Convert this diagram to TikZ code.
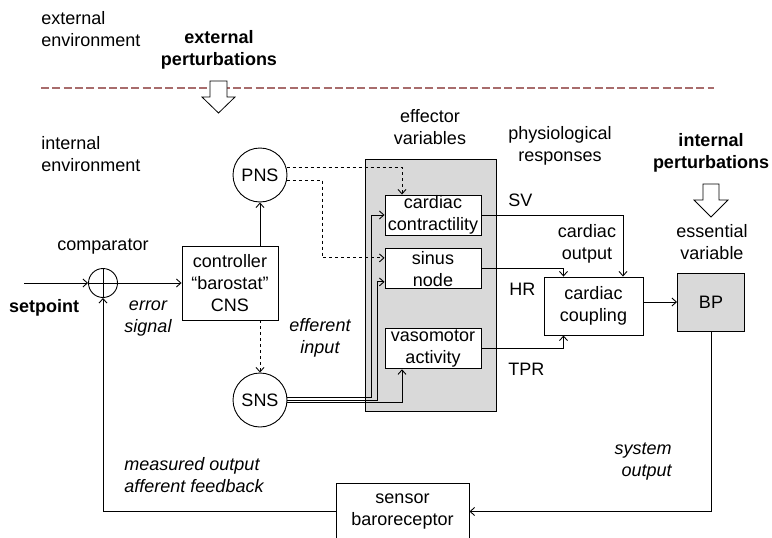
\documentclass[tikz,border=0pt]{standalone}
\usepackage{fontspec}
\setmainfont{Liberation Sans}
\usepackage{tikz}
\usetikzlibrary{positioning, arrows.meta}

\definecolor{effgray}{RGB}{217,217,217}
\definecolor{sepred}{RGB}{168,108,108}

\begin{document}
\begin{tikzpicture}[
x=1pt, y=-1pt,
font=\fontsize{18}{22}\selectfont,
line width=0.9pt,
block/.style={rectangle,
  draw,
  fill=white,
  align=center,
  inner sep=0pt,
  minimum width=96pt,
  minimum height=40pt
},
sumnode/.style={circle, draw, minimum size=29pt, inner sep=0pt},
nervenode/.style={circle, draw, fill=white, minimum size=54pt, inner sep=0pt},
lbl/.style={align=center, inner sep=0pt},
boldlbl/.style={lbl, font=\fontsize{18}{22}\selectfont\bfseries},
itlbl/.style={lbl, font=\fontsize{18}{22}\selectfont\itshape},
hollow/.style={draw, fill=white, line width=0.8pt, line join=miter},
sepline/.style={draw=sepred, line width=1.6pt, dash pattern=on 8pt off 3.3pt},
>={Straight Barb[length=4.5pt,width=8pt]}
]
\useasboundingbox (0,0) rectangle (772,538);

% environments and the boundary between them
\node[lbl, anchor=west, align=left] (extenv) at (41,29) {external\\environment};
\node[boldlbl] (extpert) at (219,50) {external\\perturbations};
\draw[sepline] (41,88) -- (714,88);
\draw[hollow] (210,81) -- (227,81) -- (227,97) -- (235,97) -- (218.5,113)
  -- (202,97) -- (210,97) -- cycle;
\node[lbl, anchor=west, align=left] (intenv) at (41,154) {internal\\environment};

% effector block
\node[draw, fill=effgray, minimum width=131pt, minimum height=252pt] (effbox) at (430.5,285) {};
\node[lbl] (efflbl) at (430,127.5) {effector\\variables};
\node[block] (cc) at (433,215) {cardiac\\contractility};
\node[block, below=13pt of cc] (sinus) {sinus\\node};
\node[block, below=39pt of sinus] (vaso) {vasomotor\\activity};

% comparator, controller and nerves
\node[sumnode] (comp) at (103,283) {};
\draw (comp.north) -- (comp.south) (comp.west) -- (comp.east);
\coordinate (sp) at (24,283);
\node[lbl] (complbl) at (103,247) {comparator};
\node[boldlbl] (splbl) at (44,308) {setpoint};
\node[block, minimum height=74pt] (ctrl) at (230,283) {controller\\“barostat”\\CNS};
\node[itlbl] (errlbl) at (148,318.5) {error\\signal};
\node[nervenode] (pns) at (260,175) {PNS};
\node[nervenode] (sns) at (260,400) {SNS};
\node[itlbl] (efflbl2) at (320,337.5) {efferent\\input};

% responses and the essential variable
\node[lbl] (physlbl) at (560,146) {physiological\\responses};
\node[lbl, anchor=west] (sv) at (508,200) {SV};
\node[lbl] (colbl) at (587,244) {cardiac\\output};
\node[lbl, anchor=west] (hr) at (509,289) {HR};
\node[lbl, anchor=west] (tpr) at (508,369) {TPR};
\node[block, minimum width=99pt, minimum height=58pt] (coupling) at (593.5,306) {cardiac\\coupling};
\node[boldlbl] (intpert) at (711,153) {internal\\perturbations};
\draw[hollow] (703,184) -- (719,184) -- (719,200) -- (728,200) -- (711,217)
  -- (694,200) -- (703,200) -- cycle;
\node[lbl] (esslbl) at (712,242.5) {essential\\variable};
\node[block, fill=effgray, minimum width=67pt, minimum height=58pt] (bp) at (711,302) {BP};

% feedback path
\node[block, minimum width=133pt, minimum height=57pt] (sensor) at (402.5,511.5) {sensor\\baroreceptor};
\node[itlbl, anchor=west, align=left] (measlbl) at (124,475.5) {measured output\\afferent feedback};
\node[itlbl, anchor=east, align=right] (syslbl) at (672,462) {system\\output};

% connectors
\draw[->] (sp) -- (comp.west);
\draw[->] (comp.east) -- (ctrl.west);
\draw[->] (ctrl.north -| pns.south) -- (pns.south);
\draw[->, dashed] (ctrl.south -| sns.north) -- (sns.north);
\draw[->, dashed] (pns.15) -| ([xshift=-31pt]cc.north);
\draw[->, dashed] (pns.-11) -| ([xshift=-62pt,yshift=11pt]sinus.west) -- ([yshift=11pt]sinus.west);
\draw[->] (sns.6) -| ([xshift=-13pt]cc.west) -- (cc.west);
\draw[->] (sns.east) -| ([xshift=-7pt,yshift=-13pt]sinus.west) -- ([yshift=-13pt]sinus.west);
\draw[->] (sns.-6) -| ([xshift=-31pt]vaso.south);
\draw[->] (cc.east) -| ([xshift=29.5pt]coupling.north);
\draw[->] (sinus.east) -| ([xshift=-30pt]coupling.north);
\draw[->] (vaso.east) -| ([xshift=-30pt]coupling.south);
\draw[->] (coupling.east |- bp.west) -- (bp.west);
\draw[->] (bp.south) |- (sensor.east);
\draw[->] (sensor.west) -| (comp.south);
\end{tikzpicture}
\end{document}
